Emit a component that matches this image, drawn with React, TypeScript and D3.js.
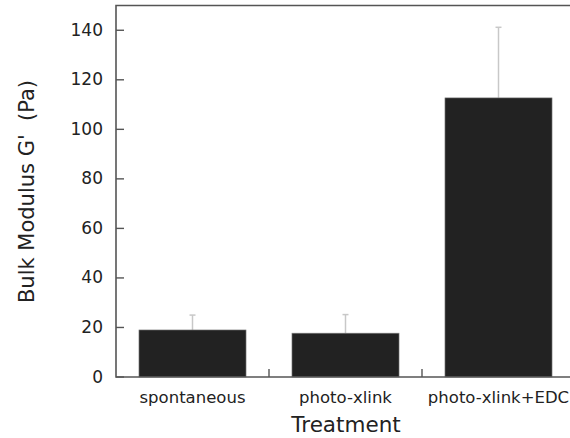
import { useEffect, useRef } from 'react'
import * as d3 from 'd3'

const categories = ['spontaneous', 'photo-xlink', 'photo-xlink+EDC']
const means = [19, 17.7, 112.7]
const errors = [6, 7.5, 28.5]
const yTicks = [0, 20, 40, 60, 80, 100, 120, 140]

export default function App() {
  const svgRef = useRef<SVGSVGElement>(null)

  useEffect(() => {
    if (!svgRef.current) return
    const svg = d3.select(svgRef.current)
    svg.selectAll('*').remove()

    const left = 116
    const right = 575
    const top = 5.5
    const bottom = 377
    const font = "'DejaVu Sans', Verdana, sans-serif"
    const axisColor = '#555'
    const textColor = '#222'

    const x = d3.scaleBand<string>()
      .domain(categories)
      .range([left, right])
      .paddingInner(0.3)
      .paddingOuter(0.15)

    const y = d3.scaleLinear().domain([0, 150]).range([bottom, top])

    const data = categories.map((c, i) => ({ c, m: means[i], e: errors[i] }))

    // error bars, upper half only, behind the bars
    const eb = svg.append('g')
    data.forEach(d => {
      const cx = x(d.c)! + x.bandwidth() / 2
      eb.append('line')
        .attr('x1', cx).attr('x2', cx)
        .attr('y1', y(d.m)).attr('y2', y(d.m + d.e))
        .style('stroke', '#c8c8c8')
        .style('stroke-width', 1.5)
      eb.append('line')
        .attr('x1', cx - 3).attr('x2', cx + 3)
        .attr('y1', y(d.m + d.e)).attr('y2', y(d.m + d.e))
        .style('stroke', '#c8c8c8')
        .style('stroke-width', 1.5)
    })

    // bars
    svg.append('g')
      .selectAll('rect')
      .data(data)
      .enter()
      .append('rect')
      .attr('x', d => x(d.c)!)
      .attr('y', d => y(d.m))
      .attr('width', x.bandwidth())
      .attr('height', d => y(0) - y(d.m))
      .style('fill', '#222')
      .style('stroke', '#8a8a8a')
      .style('stroke-width', 0.6)

    // frame: top, left, bottom (right side falls off the page)
    svg.append('path')
      .attr('d', `M${right},${top}H${left}V${bottom}H${right}`)
      .style('fill', 'none')
      .style('stroke', axisColor)
      .style('stroke-width', 1.6)

    // y ticks, pointing inward
    const yt = svg.append('g')
    yTicks.forEach(t => {
      yt.append('line')
        .attr('x1', left).attr('x2', left + 8)
        .attr('y1', y(t)).attr('y2', y(t))
        .style('stroke', axisColor)
        .style('stroke-width', 1.4)
      yt.append('text')
        .attr('x', 103)
        .attr('y', y(t) + 5.5)
        .attr('text-anchor', 'end')
        .style('font-family', font)
        .style('font-size', '17px')
        .style('fill', textColor)
        .text(t)
    })

    // x ticks between categories
    categories.slice(1).forEach(c => {
      const bx = x(c)! - (x.step() - x.bandwidth()) / 2
      svg.append('line')
        .attr('x1', bx).attr('x2', bx)
        .attr('y1', bottom).attr('y2', bottom - 8)
        .style('stroke', axisColor)
        .style('stroke-width', 1.4)
    })

    // category labels
    categories.forEach(c => {
      svg.append('text')
        .attr('x', x(c)! + x.bandwidth() / 2)
        .attr('y', 402.5)
        .attr('text-anchor', 'middle')
        .style('font-family', font)
        .style('font-size', '16.5px')
        .style('fill', textColor)
        .text(c)
    })

    // axis titles
    svg.append('text')
      .attr('x', 346)
      .attr('y', 431.5)
      .attr('text-anchor', 'middle')
      .style('font-family', font)
      .style('font-size', '21.5px')
      .style('fill', textColor)
      .text('Treatment')

    svg.append('text')
      .attr('transform', 'translate(33.5,191.5) rotate(-90)')
      .attr('text-anchor', 'middle')
      .style('font-family', font)
      .style('font-size', '21px')
      .style('fill', textColor)
      .style('white-space', 'pre')
      .text("Bulk Modulus G'  (Pa)")
  }, [])

  return (
    <svg
      ref={svgRef}
      width={570}
      height={438}
      style={{ position: 'absolute', left: 0, top: 0, background: '#fff' }}
    />
  )
}
